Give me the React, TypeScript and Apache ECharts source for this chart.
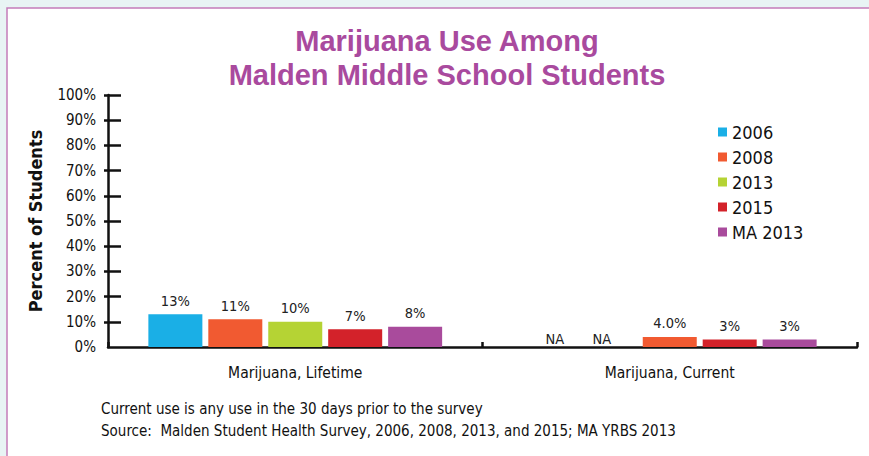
import React, { useEffect, useRef } from "react";
import * as echarts from "echarts";

const categories = ["Marijuana, Lifetime", "Marijuana, Current"];
const seriesNames = ["2006", "2008", "2013", "2015", "MA 2013"];
const values2006 = [13, 0];
const values2008 = [11, 0];
const values2013 = [10, 4.0];
const values2015 = [7, 3];
const valuesMA2013 = [8, 3];
const labels2006 = ["13%", "NA"];
const labels2008 = ["11%", "NA"];
const labels2013 = ["10%", "4.0%"];
const labels2015 = ["7%", "3%"];
const labelsMA2013 = ["8%", "3%"];
const yTickValues = [0, 10, 20, 30, 40, 50, 60, 70, 80, 90, 100];
const titleLines = ["Marijuana Use Among", "Malden Middle School Students"];
const footnotes = [
  "Current use is any use in the 30 days prior to the survey",
  "Source:  Malden Student Health Survey, 2006, 2008, 2013, and 2015; MA YRBS 2013",
];

const colors = ["#1aafe6", "#f15a31", "#b5d334", "#d3222a", "#a94b9c"];
const FONT = "'DejaVu Sans Condensed', 'Liberation Sans', sans-serif";
const TITLE_FONT = "'Liberation Sans', sans-serif";

export default function App() {
  const ref = useRef<HTMLDivElement>(null);
  useEffect(() => {
    if (!ref.current) return;
    const chart = echarts.init(ref.current, null, { renderer: "svg" });
    const allValues = [values2006, values2008, values2013, values2015, valuesMA2013];
    const allLabels = [labels2006, labels2008, labels2013, labels2015, labelsMA2013];
    const naOffsets = [5, -8];
    const series = seriesNames.map((name, si) => ({
      name,
      type: "bar",
      barWidth: 54,
      barGap: "11%",
      itemStyle: { color: colors[si] },
      label: {
        show: true,
        position: "top",
        distance: 6,
        fontFamily: FONT,
        fontSize: 14.5,
        color: "#222",
        formatter: (p: any) => allLabels[si][p.dataIndex],
      },
      data: allValues[si].map((v, di) => {
        const item: any = { value: v };
        if (allLabels[si][di] === "NA") item.label = { distance: 1, offset: [naOffsets[si] || 0, 0] };
        // the 2013 "current" bar is drawn in the 2008 colour in the original
        if (si === 2 && di === 1) item.itemStyle = { color: colors[1] };
        return item;
      }),
    }));
    const axisColor = "#111";
    const tickVals = yTickValues.filter((v) => v > 0);
    chart.setOption({
      animation: false,
      backgroundColor: "#e8f4f4",
      graphic: [
        {
          type: "rect",
          z: -10,
          shape: { x: 7, y: 8, width: 900, height: 500 },
          style: { fill: "#ffffff", stroke: "#c47cb9", lineWidth: 1.5 },
        },
        ...titleLines.map((t, i) => ({
          type: "text",
          x: 447,
          y: 41 + i * 34,
          style: {
            text: t,
            fill: "#a94a9e",
            font: `bold 29px ${TITLE_FONT}`,
            textAlign: "center",
            textVerticalAlign: "middle",
          },
        })),
        ...footnotes.map((t, i) => ({
          type: "text",
          x: 101,
          y: 409 + i * 22,
          style: {
            text: t,
            fill: "#111",
            font: `15px ${FONT}`,
            textAlign: "left",
            textVerticalAlign: "middle",
          },
        })),
      ],
      legend: {
        orient: "vertical",
        left: 713,
        top: 118,
        icon: "rect",
        itemWidth: 9,
        itemHeight: 9,
        itemGap: 7,
        data: seriesNames,
        textStyle: { fontFamily: FONT, fontSize: 18, color: "#111" },
      },
      grid: { left: 108, right: 12, top: 95, bottom: 109 },
      xAxis: {
        type: "category",
        data: categories,
        axisLine: { lineStyle: { color: axisColor, width: 2.5 } },
        axisTick: { show: true, inside: true, length: 5, lineStyle: { color: axisColor, width: 2.5 } },
        axisLabel: { margin: 18, fontFamily: FONT, fontSize: 15.5, color: "#111" },
      },
      yAxis: [
        {
          type: "value",
          min: 0,
          max: 100,
          interval: 10,
          position: "left",
          axisLine: { show: true, lineStyle: { color: axisColor, width: 2.5 } },
          axisTick: { show: true, length: 4, customValues: tickVals, lineStyle: { color: axisColor, width: 2.5 } },
          splitLine: { show: false },
          axisLabel: { formatter: "{value}%", margin: 12, fontFamily: FONT, fontSize: 15, color: "#111" },
          name: "Percent of Students",
          nameLocation: "middle",
          nameGap: 64,
          nameTextStyle: { fontFamily: FONT, fontWeight: "bold", fontSize: 18, color: "#111" },
        },
        {
          type: "value",
          min: 0,
          max: 100,
          interval: 10,
          position: "left",
          axisLine: { show: false },
          axisTick: { show: true, inside: true, length: 13, customValues: tickVals, lineStyle: { color: axisColor, width: 2.5 } },
          axisLabel: { show: false },
          splitLine: { show: false },
        },
      ],
      series,
    });
    return () => chart.dispose();
  }, []);
  return (
    <div
      ref={ref}
      style={{ position: "absolute", left: 0, top: 0, width: 869, height: 456 }}
    />
  );
}
